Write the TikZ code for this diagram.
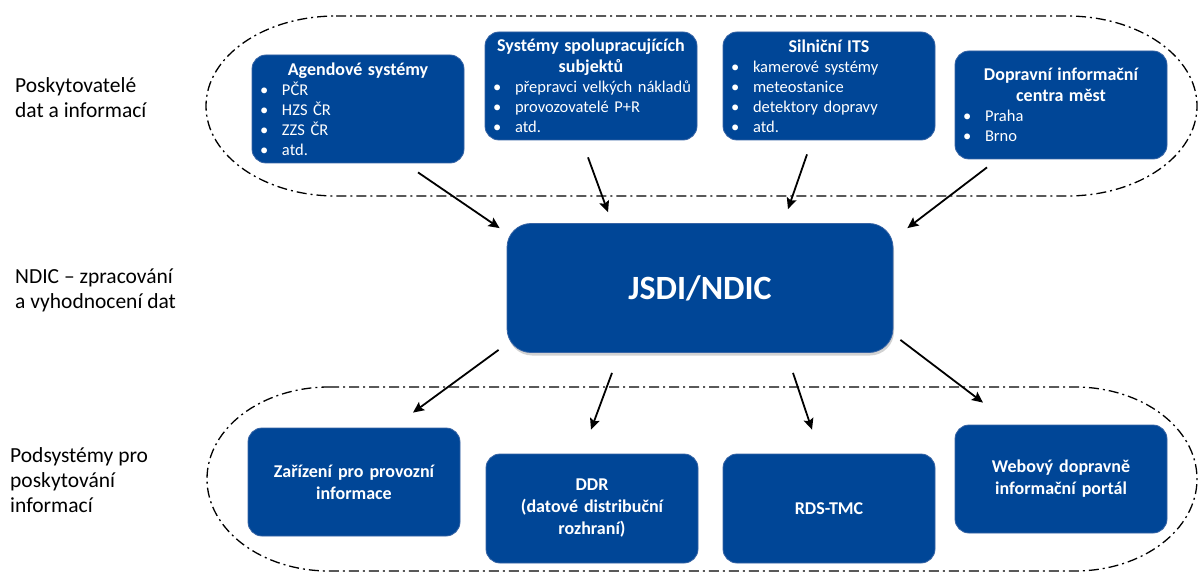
\documentclass[tikz,border=0pt]{standalone}
\usepackage{fontspec}
\setmainfont{Carlito}
\usetikzlibrary{calc,arrows.meta,shadows}
\definecolor{boxblue}{RGB}{0,70,151}
\definecolor{boxedge}{RGB}{55,100,165}
\newcommand{\bulitem}[1]{\makebox[22pt][l]{•}\mbox{#1}\par}
\newcommand{\boxtitle}[1]{{\centering\fontsize{18}{21}\selectfont\bfseries #1\par}}
\tikzset{
  blbox/.style={rounded corners=14pt, fill=boxblue, draw=boxedge, line width=0.8pt,
    text=white, inner xsep=8pt, inner ysep=0pt, text width=196pt,
    minimum height=108pt},
  topbox/.style={blbox, align=left, font=\fontsize{16.5}{20}\selectfont},
  botbox/.style={blbox, align=center, font=\fontsize{18}{22}\selectfont\bfseries},
  dd/.style={line width=1.3pt, dash pattern=on 10pt off 4pt on 2pt off 4pt},
  arr/.style={line width=1.8pt, -{Stealth[length=11pt,width=10pt,inset=2pt]}},
  sidelabel/.style={anchor=west, align=left, inner sep=0pt, font=\fontsize{21.5}{25}\selectfont},
}
\begin{document}
\begin{tikzpicture}[x=1pt,y=1pt]
\useasboundingbox (0,0) rectangle (1198,571);
\clip (0,0) rectangle (1198,571);
\fill[white] (0,0) rectangle (1198,571);

% grouping outlines
\draw[dd] (336,555) -- (1067,555) arc[start angle=90, end angle=-90, x radius=130, y radius=90]
  -- (336,375) arc[start angle=270, end angle=90, x radius=130, y radius=90] -- cycle;
\draw[dd] (329,184) -- (1075,184) arc[start angle=90, end angle=-90, x radius=122, y radius=92]
  -- (329,0) arc[start angle=270, end angle=90, x radius=122, y radius=92] -- cycle;

% side labels
\node[sidelabel] (L1) at (15,473) {Poskytovatelé\\dat a informací};
\node[sidelabel] (L2) at (15,281) {NDIC -- zpracování\\a vyhodnocení dat};
\node[sidelabel] (L3) at (10,91) {Podsystémy pro\\poskytování\\informací};

% top boxes
\node[topbox] (A1) at (358,462) {\boxtitle{Agendové systémy}\bulitem{PČR}\bulitem{HZS ČR}\bulitem{ZZS ČR}\bulitem{atd.}};
\node[topbox] (A2) at (591,485) {\boxtitle{Systémy spolupracujících\\subjektů}\bulitem{přepravci velkých nákladů}\bulitem{provozovatelé P+R}\bulitem{atd.}};
\node[topbox] (A3) at (829,485) {\boxtitle{Silniční ITS}\bulitem{kamerové systémy}\bulitem{meteostanice}\bulitem{detektory dopravy}\bulitem{atd.}};
\node[topbox] (A4) at (1061,466) {\boxtitle{Dopravní informační\\centra měst}\bulitem{Praha}\bulitem{Brno}};

% central box
\node[rounded corners=24pt, fill=boxblue, draw=boxedge, line width=0.8pt, text=white,
  minimum width=386pt, minimum height=129pt, inner sep=0pt,
  font=\fontsize{34}{40}\selectfont\bfseries,
  drop shadow={shadow xshift=1pt, shadow yshift=-3pt, opacity=0.35}] (C) at (700,283) {JSDI/NDIC};

% bottom boxes
\node[botbox] (B1) at (354,89) {Zařízení pro provozní\\informace};
\node[botbox, minimum height=109pt] (B2) at (592,62.5) {DDR\\(datové distribuční\\rozhraní)};
\node[botbox, minimum height=109pt] (B3) at (829,62.5) {RDS-TMC};
\node[botbox] (B4) at (1061,92) {Webový dopravně\\informační portál};

% arrows into the centre
\draw[arr] ($(A1.south)+(60,-9)$) -- ($(C.north west)+(-7,-5)$);
\draw[arr] ($(A2.south)+(-3,-17)$) -- ($(C.north)+(-92,11)$);
\draw[arr] ($(A3.south)+(-22,-14)$) -- ($(C.north)+(88,14)$);
\draw[arr] ($(A4.south)+(-74,-8)$) -- ($(C.north east)+(14,-5)$);

% arrows out of the centre
\draw[arr] ($(C.south west)+(-8,3)$) -- ($(B1.north)+(59,15)$);
\draw[arr] ($(C.south)+(-88,-20)$) -- ($(B2.north)+(-1,24)$);
\draw[arr] ($(C.south)+(93,-20)$) -- ($(B3.north)+(-17,24)$);
\draw[arr] ($(C.south east)+(7,13)$) -- ($(B4.north)+(-78,22)$);
\end{tikzpicture}
\end{document}
